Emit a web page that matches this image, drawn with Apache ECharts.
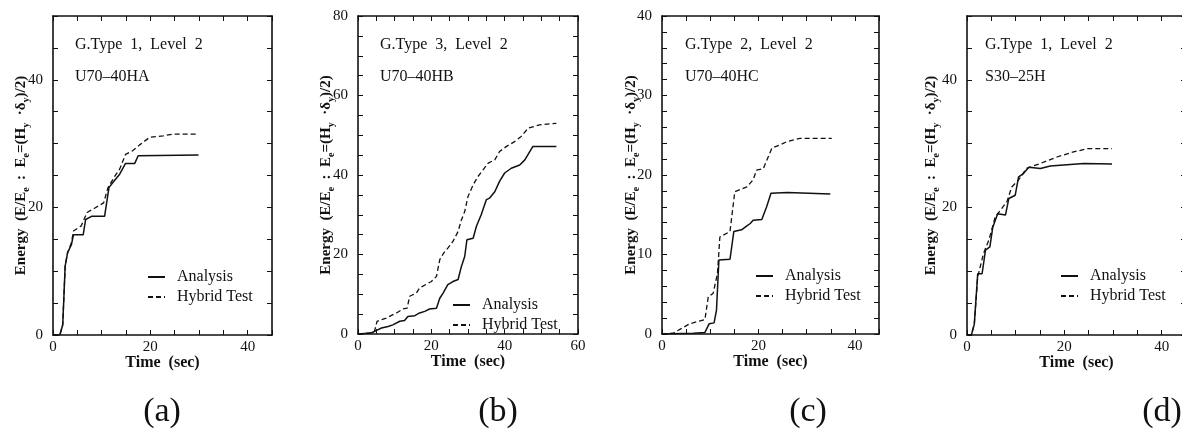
<!DOCTYPE html>
<html>
<head>
<meta charset="utf-8">
<script src="https://cdn.jsdelivr.net/npm/echarts@6/dist/echarts.min.js"></script>
<style>html,body{margin:0;padding:0;background:#fff}#c{width:1182px;height:431px}</style>
</head>
<body>
<div id="c"></div>
<script>
// ---- data: [time (sec), energy] ----
const a_analysis = [[0,0],[1.4,0],[2.0,1.6],[2.5,10.8],[3.0,12.9],[3.8,14.2],[4.2,15.7],[6.2,15.7],[6.7,18.1],[7.9,18.6],[10.6,18.6],[11.5,23.1],[12.3,23.9],[13.7,25.2],[14.9,26.9],[16.8,26.9],[17.5,28.1],[29.9,28.2]];
const a_hybrid = [[0,0],[1.4,0],[2.0,1.6],[2.5,10.8],[3.0,12.9],[3.8,14.5],[4.2,16.3],[5.8,17.1],[7.0,19.2],[8.6,19.9],[10.4,20.7],[11.3,23.1],[12.7,24.9],[13.7,26.0],[14.9,28.3],[16.4,28.9],[17.8,29.8],[19.9,31.0],[22.6,31.2],[24.7,31.5],[29.5,31.5]];
const b_analysis = [[0,0],[3.6,0.25],[5.5,1.1],[6.4,1.5],[8.2,1.9],[9.5,2.3],[11.4,3.2],[12.7,3.4],[13.6,4.4],[15.5,4.6],[16.8,5.3],[18.2,5.7],[19.5,6.3],[21.4,6.5],[22.3,9.0],[23.2,10.3],[24.5,12.4],[25.9,13.2],[27.3,13.7],[28.2,17.0],[29.1,19.5],[29.7,23.7],[31.4,24.1],[32.3,27.1],[33.6,30.0],[35.0,33.8],[35.9,34.2],[37.3,35.8],[38.6,38.4],[40.0,40.5],[41.8,41.7],[44.1,42.5],[45.5,43.8],[47.7,47.2],[54.1,47.2]];
const b_hybrid = [[0,0],[3.2,0.25],[4.5,0.7],[5.2,3.2],[7.7,4.0],[10.5,5.3],[12.3,6.3],[13.4,6.5],[14.1,9.5],[15.9,10.3],[16.8,11.6],[20.0,13.2],[21.4,14.5],[22.3,18.7],[23.4,20.4],[24.5,21.6],[25.9,23.3],[27.3,25.8],[28.2,28.7],[29.1,30.8],[30.0,34.6],[31.4,37.5],[32.7,39.6],[34.1,41.3],[35.5,43.0],[37.3,43.8],[38.6,45.9],[40.5,47.2],[42.7,48.4],[44.5,49.7],[46.4,51.8],[49.5,52.6],[54.1,53.0]];
const c_analysis = [[0,0],[6.5,0.1],[8.9,0.2],[9.8,1.3],[10.8,1.4],[11.3,3.0],[11.8,9.3],[14.1,9.4],[14.9,12.9],[16.5,13.1],[17.6,13.6],[18.3,13.9],[18.9,14.3],[20.7,14.4],[21.7,16.0],[22.6,17.7],[26.0,17.8],[34.9,17.6]];
const c_hybrid = [[0,0],[2.3,0.1],[5.8,1.3],[8.9,1.8],[9.6,4.7],[10.6,5.1],[11.5,7.6],[12.0,12.2],[14.1,12.9],[15.1,17.9],[17.6,18.5],[18.9,19.4],[19.6,20.6],[21.0,20.8],[22.8,23.4],[24.5,23.8],[25.9,24.2],[28.6,24.6],[35.2,24.6]];
const d_analysis = [[0,0],[0.9,0],[1.5,1.7],[2.2,9.6],[3.1,9.6],[3.8,13.3],[4.7,13.8],[5.3,16.9],[6.3,19.0],[7.9,18.8],[8.6,21.4],[9.9,21.9],[10.6,24.8],[11.6,25.3],[12.7,26.3],[15.1,26.1],[17.1,26.5],[24.0,26.9],[29.8,26.8]];
const d_hybrid = [[0,0],[0.9,0],[1.5,1.7],[2.2,9.1],[3.4,12.8],[4.5,14.9],[5.8,18.5],[8.2,20.9],[9.2,23.2],[10.6,24.3],[12.2,26.1],[15.1,26.9],[18.5,27.9],[21.9,28.7],[24.7,29.2],[29.8,29.2]];

const seriesNames = ['Analysis', 'Hybrid Test'];
const panelTitles = ['G.Type  1,  Level  2', 'G.Type  3,  Level  2', 'G.Type  2,  Level  2', 'G.Type  1,  Level  2'];
const specimens = ['U70–40HA', 'U70–40HB', 'U70–40HC', 'S30–25H'];
const captions = ['(a)', '(b)', '(c)', '(d)'];
const xMax = [45, 60, 45, 45];
const yMax = [50, 80, 40, 50];
const yLabelStep = [20, 20, 10, 20];
const xLabelStep = [20, 20, 20, 20];
const yMinorSplit = [2, 2, 5, 2];
const xName = 'Time  (sec)';
const yNameRich = '{b|Energy  (E/E}{s|e}{b|  :  E}{s|e}{b|=(H}{s|y}{b|  ·δ}{s|y}{b|)/2)}';

const analysisData = [a_analysis, b_analysis, c_analysis, d_analysis];
const hybridData = [a_hybrid, b_hybrid, c_hybrid, d_hybrid];

// ---- layout ----
const grids = [
  {left: 53, top: 16, width: 219, height: 319},
  {left: 358, top: 16, width: 220, height: 318},
  {left: 662, top: 16, width: 217, height: 318},
  {left: 967, top: 16, width: 219, height: 319}
];
const yNameGap = [22, 22, 21, 26];
const titleX = [75, 380, 685, 985];
const legendPos = [[147, 269], [452, 297], [755, 268], [1060, 268]];
const captionX = [162, 498, 808, 1162];

const FONT = 'Liberation Serif';
const INK = '#111';

const option = {
  backgroundColor: '#fff',
  animation: false,
  grid: grids.map(g => Object.assign({containLabel: false, outerBoundsMode: 'none'}, g)),
  xAxis: [], yAxis: [], series: [], legend: [], graphic: []
};

for (let i = 0; i < 4; i++) {
  const axisLine = {show: true, onZero: false, lineStyle: {color: INK, width: 1.6}};
  const tick = {show: true, inside: true, length: 5, lineStyle: {color: INK, width: 1}};
  const xBase = {type: 'value', gridIndex: i, min: 0, max: xMax[i], interval: 5,
    axisLine, axisTick: tick, splitLine: {show: false}};
  option.xAxis.push(Object.assign({}, xBase, {
    position: 'bottom',
    name: xName, nameLocation: 'middle', nameGap: 20, nameMoveOverlap: false,
    nameTextStyle: {fontFamily: FONT, fontWeight: 'bold', fontSize: 16, color: INK},
    axisLabel: {show: true, margin: 5, fontFamily: FONT, fontSize: 15, color: INK,
      formatter: v => (v % xLabelStep[i] === 0 ? String(v) : '')}
  }));
  option.xAxis.push(Object.assign({}, xBase, {position: 'top', axisLabel: {show: false}}));

  const yBase = {type: 'value', gridIndex: i, min: 0, max: yMax[i], interval: 10,
    axisLine, axisTick: tick,
    minorTick: {show: true, splitNumber: yMinorSplit[i], length: 5, lineStyle: {color: INK, width: 1}},
    splitLine: {show: false}, minorSplitLine: {show: false}};
  option.yAxis.push(Object.assign({}, yBase, {
    position: 'left',
    name: yNameRich, nameLocation: 'middle', nameGap: yNameGap[i], nameRotate: 90, nameMoveOverlap: false,
    nameTextStyle: {
      rich: {
        b: {fontFamily: FONT, fontWeight: 'bold', fontSize: 15, color: INK, lineHeight: 15, verticalAlign: 'middle'},
        s: {fontFamily: FONT, fontWeight: 'bold', fontSize: 10, color: INK, lineHeight: 19, verticalAlign: 'bottom'}
      }
    },
    axisLabel: {show: true, margin: 10, fontFamily: FONT, fontSize: 15, color: INK,
      formatter: v => (v % yLabelStep[i] === 0 ? String(v) : '')}
  }));
  option.yAxis.push(Object.assign({}, yBase, {position: 'right', axisLabel: {show: false}}));

  option.series.push({
    name: seriesNames[0], type: 'line', xAxisIndex: 2 * i, yAxisIndex: 2 * i,
    data: analysisData[i], symbol: 'none', showSymbol: false, smooth: false,
    lineStyle: {color: INK, width: 1.5, type: 'solid'}, itemStyle: {color: INK}
  });
  option.series.push({
    name: seriesNames[1], type: 'line', xAxisIndex: 2 * i, yAxisIndex: 2 * i,
    data: hybridData[i], symbol: 'none', showSymbol: false, smooth: false,
    lineStyle: {color: INK, width: 1.3, type: [5, 3]}, itemStyle: {color: INK}
  });

  option.legend.push({
    data: seriesNames, orient: 'vertical', left: legendPos[i][0], top: legendPos[i][1],
    padding: 0, itemWidth: 17, itemHeight: 14, itemGap: 4,
    itemStyle: {opacity: 0},
    selectedMode: false,
    textStyle: {fontFamily: FONT, fontSize: 16, color: INK, padding: [0, 0, 0, 7]}
  });

  option.graphic.push({
    type: 'text', left: titleX[i], top: 37,
    style: {text: panelTitles[i], fontFamily: FONT, fontSize: 16, fill: INK}
  });
  option.graphic.push({
    type: 'text', left: titleX[i], top: 69,
    style: {text: specimens[i], fontFamily: FONT, fontSize: 16, fill: INK}
  });
  option.graphic.push({
    type: 'text', x: captionX[i], y: 412,
    style: {text: captions[i], fontFamily: FONT, fontSize: 34, fill: INK, align: 'center', verticalAlign: 'middle'}
  });
}

const chart = echarts.init(document.getElementById('c'), null, {renderer: 'canvas'});
chart.setOption(option);
</script>
</body>
</html>
